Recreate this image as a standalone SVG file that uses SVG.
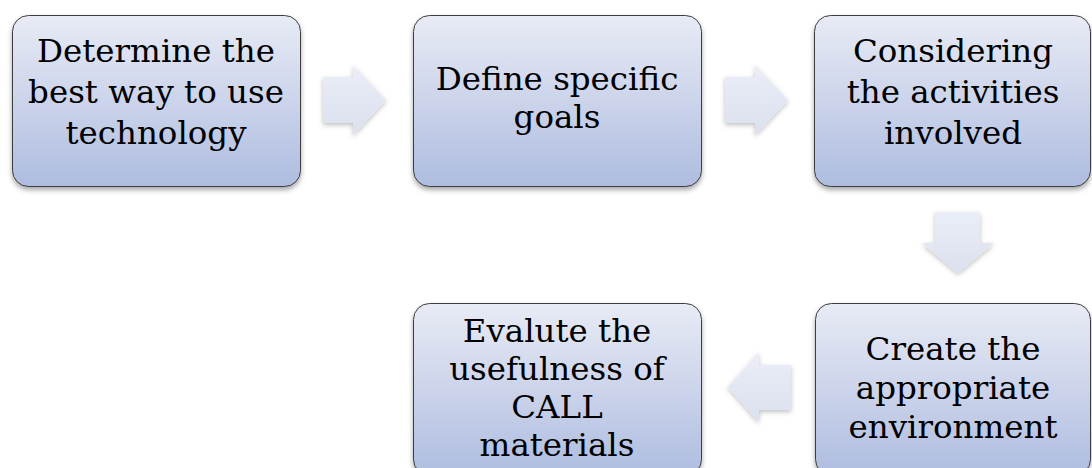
<svg xmlns="http://www.w3.org/2000/svg" width="1092" height="468" viewBox="0 0 1092 468">
<defs>
<linearGradient id="boxg" x1="0" y1="0" x2="0" y2="1">
<stop offset="0" stop-color="#e8ebf5"/>
<stop offset="0.5" stop-color="#ccd4eb"/>
<stop offset="1" stop-color="#aebcdf"/>
</linearGradient>
<linearGradient id="arrg" x1="0" y1="0" x2="0" y2="1">
<stop offset="0" stop-color="#ebeef7"/>
<stop offset="1" stop-color="#dbe0ee"/>
</linearGradient>
<filter id="sh" x="-10%" y="-10%" width="120%" height="125%">
<feDropShadow dx="0" dy="3" stdDeviation="2.5" flood-color="#000" flood-opacity="0.35"/>
</filter>
<filter id="ash" x="-20%" y="-20%" width="140%" height="140%">
<feDropShadow dx="0" dy="2" stdDeviation="2.5" flood-color="#000" flood-opacity="0.25"/>
</filter>
</defs>
<style>
.box{fill:url(#boxg);stroke:#3c3c3c;stroke-width:1;filter:url(#sh)}
.arr{fill:url(#arrg);stroke:none;filter:url(#ash)}
.t{font-family:"DejaVu Serif","Liberation Serif",serif;font-size:32.5px;fill:#000;text-anchor:middle}
</style>
<rect width="1092" height="468" fill="#fff"/>
<g id="connectors">
<path class="arr" d="M323,77 H353 V65 L386,100 L353,135 V123 H323 Z"/>
<path class="arr" d="M725,77 H755 V65 L788,100 L755,135 V123 H725 Z"/>
<path class="arr" d="M935,212 H980 V243 H994 L958,273 L922,243 H935 Z"/>
<path class="arr" d="M791,365 H759 V352 L728,387 L759,422 V410 H791 Z"/>
</g>
<g id="n1">
<rect class="box" x="12.5" y="15.5" width="288" height="171" rx="16"/>
<text class="t"><tspan x="156" y="62">Determine the</tspan><tspan x="156" y="103">best way to use</tspan><tspan x="156" y="144">technology</tspan></text>
</g>
<g id="n2">
<rect class="box" x="413.5" y="15.5" width="288" height="171" rx="16"/>
<text class="t"><tspan x="557" y="90">Define specific</tspan><tspan x="557" y="128">goals</tspan></text>
</g>
<g id="n3">
<rect class="box" x="814.5" y="15.5" width="276" height="171" rx="16"/>
<text class="t"><tspan x="953" y="62">Considering</tspan><tspan x="953" y="103">the activities</tspan><tspan x="953" y="144">involved</tspan></text>
</g>
<g id="n4">
<rect class="box" x="815.5" y="303.5" width="275" height="172" rx="16"/>
<text class="t"><tspan x="953" y="360">Create the</tspan><tspan x="953" y="399">appropriate</tspan><tspan x="953" y="438">environment</tspan></text>
</g>
<g id="n5">
<rect class="box" x="413.5" y="303.5" width="288" height="172" rx="16"/>
<text class="t"><tspan x="557" y="342">Evalute the</tspan><tspan x="557" y="380">usefulness of</tspan><tspan x="557" y="418">CALL</tspan><tspan x="557" y="456">materials</tspan></text>
</g>
</svg>
